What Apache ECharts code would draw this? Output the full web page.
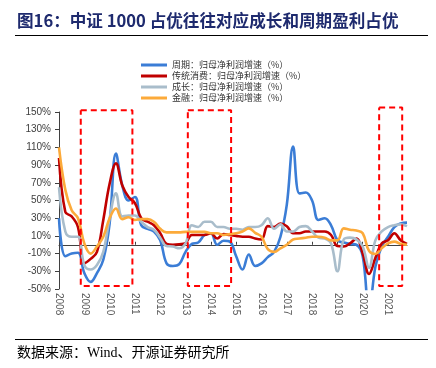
<!DOCTYPE html>
<html>
<head>
<meta charset="utf-8">
<script src="https://cdn.jsdelivr.net/npm/echarts@6/dist/echarts.min.js"></script>
<style>
html,body{margin:0;padding:0;background:#fff;}
#chart{width:436px;height:368px;}
</style>
</head>
<body>
<div id="chart"></div>
<script>
// Quarterly categories 2008Q1 .. 2021Q4
var years = [2008,2009,2010,2011,2012,2013,2014,2015,2016,2017,2018,2019,2020,2021];
var categories = [];
years.forEach(function(y){ for (var q=1;q<=4;q++) categories.push(y + 'Q' + q); });

var seriesNames = ['周期：归母净利润增速（%）','传统消费：归母净利润增速（%）','成长：归母净利润增速（%）','金融：归母净利润增速（%）'];

var cyclical = [30,-13,-10,-9,-32,-42,-32,-17,24,103,67,50,54,22,18,15,5,-21,-24,-22,-8,1,2.5,11,13,0,4.5,3.5,-13,-28,-11,-24,-21,-14,-8,9,45,111,58,59,50,28,30,22,5,2.5,1,0,-13,-75,-25,-2,9,20,24,25];
var consumer = [98,37,32,20,-21,-16,-8,28,69,92,67,54,47,30,26,22,13,1,0,0.5,2,11,11,11,13,7,12,11,10,9,9,7,6,21,20,24,21,13,13,15,15,15,15,11,-1.5,-2,1.5,7,-10,-33,-15,1.5,5,13,5,1];
var growth = [65,15,9,9,-23,-28,-23,-8,30,58,32,33,33,26,20,17,8,-1.5,-2,-4,1.5,22,20,26,26,20,20,18,18,17,20,20,22,30,18,23,15,15,20,21,15,8,7,1.5,-30,6,8,6,-2,-26,5,15,20,22,23,21];
var finance = [110,62,39,30,1.5,-10,-2,9,30,41,29,31,28,29,29,26,18,14,14,14,14.5,14.5,14.5,14.5,13,13,11,12,13,15,18.5,13.5,9,-5,-8,-4,0,6,7,8,9,9,8,5,5,18.5,17,16,13,-7,-10.5,-4,1.5,3.5,1,0];

// Annotation boxes (years / percent)
var boxStart = [2008.86, 2013.09, 2020.65];
var boxEnd = [2010.90, 2014.80, 2021.56];
var boxTop = [152, 152, 155];
var boxBottom = [-46.5, -46.5, -46.5];

var colors = ['#3b7dd6', '#c00000', '#a9bdcb', '#fcaa3a'];

var chart = echarts.init(document.getElementById('chart'), null, {renderer:'canvas'});

var lineSeries = [cyclical, consumer, growth, finance].map(function(d, i){
  return {
    name: seriesNames[i], type: 'line', data: d, smooth: 0.4,
    showSymbol: false, symbol: 'none', xAxisIndex: 0, yAxisIndex: 0,
    lineStyle: {color: colors[i], width: 2.6}, itemStyle: {color: colors[i]},
    z: 3 + i
  };
});

var boxSeries = boxStart.map(function(s, i){
  var e = boxEnd[i], t = boxTop[i], b = boxBottom[i];
  return {
    name: 'box' + i, type: 'line', xAxisIndex: 2, yAxisIndex: 0,
    data: [[s,t],[e,t],[e,b],[s,b],[s,t]], clip: false,
    showSymbol: false, symbol: 'none', silent: true, z: 10,
    lineStyle: {color: '#ff0000', width: 2, type: [6,4]}
  };
});

var option = {
  animation: false,
  backgroundColor: '#fff',
  grid: {left: 59, right: 29, top: 112, bottom: 79, containLabel: false},
  legend: {
    data: seriesNames, orient: 'vertical', left: 136, top: 55,
    itemWidth: 26, itemHeight: 3, itemGap: 1, icon: 'rect',
    textStyle: {fontSize: 9, color: '#333', fontFamily: '"Noto Sans CJK SC", sans-serif', lineHeight: 10}
  },
  xAxis: [
    {
      type: 'category', data: categories, boundaryGap: false, position: 'bottom',
      axisLine: {show: false, onZero: false}, axisTick: {show: false},
      axisLabel: {
        interval: 3, rotate: -90, fontSize: 10, color: '#595959', margin: 4,
        fontFamily: 'Liberation Sans, Arial, sans-serif',
        formatter: function(v){ return v.substring(0,4); }
      },
      splitLine: {show: false}
    },
    {
      type: 'category', data: categories, boundaryGap: false, position: 'bottom',
      axisLine: {show: true, onZero: true, lineStyle: {color: '#404040', width: 1}},
      axisTick: {show: true, inside: true, interval: 3, length: 3, lineStyle: {color: '#404040'}},
      axisLabel: {show: false}, splitLine: {show: false}
    },
    {
      type: 'value', min: 2008, max: 2021.75, show: false, splitLine: {show: false}
    }
  ],
  yAxis: {
    type: 'value', min: -50, max: 150, interval: 20,
    axisLine: {show: true, lineStyle: {color: '#404040', width: 1}},
    axisTick: {show: true, length: 4, lineStyle: {color: '#404040'}},
    axisLabel: {formatter: '{value}%', fontSize: 10, color: '#404040', margin: 8,
      fontFamily: 'Liberation Sans, Arial, sans-serif'},
    splitLine: {show: false}
  },
  graphic: [
    {type: 'text', left: 17, top: 12, style: {text: '图16：中证 1000 占优往往对应成长和周期盈利占优',
      font: 'bold 16.6px "Noto Sans CJK SC", sans-serif', fill: '#1e2a6e'}},
    {type: 'line', shape: {x1: 15, y1: 35.5, x2: 428, y2: 35.5}, style: {stroke: '#000', lineWidth: 1}},
    {type: 'line', shape: {x1: 15, y1: 339.5, x2: 428, y2: 339.5}, style: {stroke: '#000', lineWidth: 1}},
    {type: 'text', left: 17, top: 346, style: {text: '数据来源：Wind、开源证券研究所',
      font: '14px "Liberation Serif", "Noto Sans CJK SC", serif', fill: '#000'}}
  ],
  series: lineSeries.concat(boxSeries)
};
chart.setOption(option);
</script>
</body>
</html>
